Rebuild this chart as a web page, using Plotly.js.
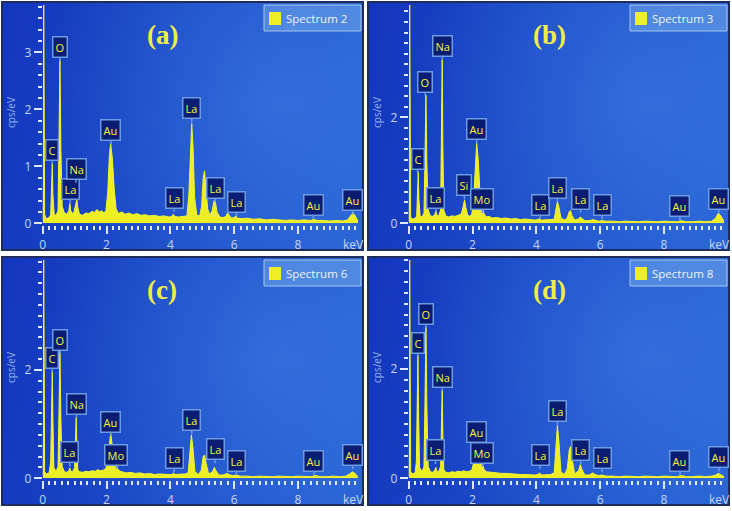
<!DOCTYPE html>
<html>
<head>
<meta charset="utf-8">
<script src="https://cdn.plot.ly/plotly-3.0.1.min.js"></script>
<style>
  html, body { margin: 0; padding: 0; background: #fff; }
  #plot { width: 732px; height: 511px; }
</style>
</head>
<body>
<div id="plot"></div>
<script>
// EDS spectra, energy in keV and counts in cps/eV
const energy_a = [0.00, 0.02, 0.03, 0.04, 0.06, 0.12, 0.20, 0.25, 0.28, 0.30, 0.32, 0.36, 0.42, 0.48, 0.51, 0.54, 0.57, 0.61, 0.68, 0.76,
  0.82, 0.85, 0.88, 0.93, 0.98, 1.03, 1.07, 1.10, 1.15, 1.25, 1.35, 1.45, 1.55, 1.62, 1.70, 1.78, 1.85, 1.92, 1.98, 2.04,
  2.09, 2.13, 2.18, 2.24, 2.30, 2.38, 2.48, 2.58, 2.70, 2.82, 2.95, 3.08, 3.20, 3.35, 3.50, 3.65, 3.80, 3.95, 4.04, 4.09,
  4.14, 4.25, 4.40, 4.52, 4.58, 4.63, 4.67, 4.71, 4.76, 4.83, 4.92, 4.98, 5.03, 5.07, 5.11, 5.17, 5.24, 5.31, 5.37, 5.41,
  5.46, 5.55, 5.65, 5.74, 5.79, 5.84, 5.92, 6.00, 6.05, 6.10, 6.25, 6.40, 6.60, 6.80, 7.00, 7.20, 7.40, 7.60, 7.80, 8.00,
  8.20, 8.40, 8.50, 8.60, 8.80, 9.00, 9.20, 9.40, 9.55, 9.65, 9.72, 9.78, 9.85, 9.88];
const counts_a = [0.05, 1.00, 4.50, 1.20, 0.15, 0.08, 0.10, 0.15, 0.55, 1.05, 0.50, 0.15, 0.14, 0.22, 1.40, 2.87, 1.30, 0.30, 0.18, 0.16,
  0.22, 0.35, 0.22, 0.17, 0.20, 0.30, 0.42, 0.28, 0.16, 0.14, 0.18, 0.17, 0.21, 0.19, 0.24, 0.20, 0.22, 0.18, 0.22, 0.55,
  1.20, 1.40, 1.15, 0.60, 0.25, 0.17, 0.20, 0.16, 0.18, 0.15, 0.17, 0.14, 0.15, 0.13, 0.14, 0.12, 0.13, 0.11, 0.12, 0.16,
  0.12, 0.11, 0.12, 0.13, 0.50, 1.40, 1.75, 1.35, 0.45, 0.14, 0.13, 0.30, 0.80, 0.92, 0.70, 0.25, 0.14, 0.22, 0.40, 0.38,
  0.20, 0.11, 0.10, 0.12, 0.18, 0.14, 0.09, 0.10, 0.13, 0.09, 0.08, 0.09, 0.07, 0.08, 0.06, 0.07, 0.06, 0.05, 0.06, 0.05,
  0.06, 0.05, 0.07, 0.05, 0.05, 0.04, 0.05, 0.04, 0.06, 0.13, 0.18, 0.14, 0.06, 0.04];

const energy_b = [0.00, 0.02, 0.03, 0.04, 0.06, 0.12, 0.20, 0.25, 0.28, 0.30, 0.32, 0.36, 0.42, 0.48, 0.51, 0.54, 0.57, 0.61, 0.68, 0.76,
  0.82, 0.85, 0.88, 0.94, 1.00, 1.03, 1.05, 1.07, 1.10, 1.16, 1.25, 1.35, 1.45, 1.55, 1.65, 1.70, 1.75, 1.79, 1.85, 1.92,
  1.98, 2.04, 2.09, 2.13, 2.18, 2.23, 2.29, 2.35, 2.42, 2.52, 2.62, 2.75, 2.90, 3.05, 3.20, 3.35, 3.50, 3.65, 3.80, 3.95,
  4.05, 4.10, 4.15, 4.30, 4.45, 4.56, 4.61, 4.66, 4.71, 4.77, 4.88, 4.97, 5.03, 5.07, 5.12, 5.20, 5.32, 5.38, 5.43, 5.52,
  5.65, 5.78, 5.83, 5.95, 6.06, 6.20, 6.40, 6.60, 6.80, 7.00, 7.20, 7.40, 7.60, 7.80, 8.00, 8.20, 8.40, 8.55, 8.70, 8.90,
  9.10, 9.30, 9.50, 9.62, 9.70, 9.77, 9.85, 9.88];
const counts_b = [0.05, 1.00, 4.60, 1.20, 0.12, 0.08, 0.09, 0.14, 0.50, 0.97, 0.45, 0.13, 0.12, 0.20, 1.20, 2.42, 1.10, 0.25, 0.14, 0.13,
  0.17, 0.24, 0.16, 0.14, 0.25, 1.60, 3.09, 1.50, 0.25, 0.14, 0.12, 0.14, 0.13, 0.15, 0.18, 0.30, 0.44, 0.30, 0.15, 0.13,
  0.18, 0.50, 1.25, 1.51, 1.20, 0.60, 0.38, 0.20, 0.12, 0.13, 0.10, 0.11, 0.09, 0.10, 0.08, 0.09, 0.07, 0.08, 0.07, 0.06,
  0.07, 0.09, 0.06, 0.06, 0.07, 0.08, 0.25, 0.41, 0.30, 0.10, 0.06, 0.10, 0.22, 0.24, 0.14, 0.06, 0.08, 0.12, 0.09, 0.05,
  0.05, 0.07, 0.06, 0.04, 0.05, 0.04, 0.04, 0.03, 0.04, 0.03, 0.03, 0.04, 0.03, 0.03, 0.04, 0.03, 0.03, 0.05, 0.03, 0.03,
  0.04, 0.03, 0.04, 0.10, 0.19, 0.15, 0.05, 0.04];

const energy_c = [0.00, 0.02, 0.03, 0.04, 0.06, 0.12, 0.20, 0.25, 0.28, 0.30, 0.32, 0.35, 0.42, 0.48, 0.51, 0.54, 0.57, 0.61, 0.68, 0.76,
  0.82, 0.85, 0.88, 0.94, 1.00, 1.03, 1.05, 1.07, 1.10, 1.16, 1.25, 1.35, 1.45, 1.55, 1.65, 1.72, 1.80, 1.90, 1.98, 2.04,
  2.09, 2.13, 2.17, 2.22, 2.28, 2.34, 2.42, 2.52, 2.62, 2.75, 2.90, 3.05, 3.20, 3.35, 3.50, 3.65, 3.80, 3.95, 4.05, 4.10,
  4.15, 4.30, 4.45, 4.56, 4.61, 4.66, 4.71, 4.77, 4.88, 4.97, 5.03, 5.07, 5.12, 5.20, 5.32, 5.38, 5.43, 5.52, 5.65, 5.78,
  5.83, 5.95, 6.06, 6.20, 6.40, 6.60, 6.80, 7.00, 7.20, 7.40, 7.60, 7.80, 8.00, 8.20, 8.40, 8.55, 8.70, 8.90, 9.10, 9.30,
  9.50, 9.62, 9.70, 9.77, 9.85, 9.88];
const counts_c = [0.05, 1.00, 4.60, 1.20, 0.12, 0.08, 0.10, 0.30, 1.20, 1.97, 1.10, 0.20, 0.12, 0.22, 1.20, 2.34, 1.10, 0.22, 0.12, 0.11,
  0.14, 0.19, 0.13, 0.12, 0.20, 0.60, 1.13, 0.55, 0.15, 0.12, 0.11, 0.13, 0.12, 0.14, 0.13, 0.16, 0.14, 0.15, 0.18, 0.35,
  0.65, 0.83, 0.65, 0.42, 0.33, 0.18, 0.13, 0.12, 0.10, 0.11, 0.09, 0.10, 0.08, 0.09, 0.07, 0.08, 0.07, 0.07, 0.07, 0.10,
  0.07, 0.07, 0.08, 0.10, 0.45, 0.80, 0.55, 0.12, 0.07, 0.15, 0.40, 0.43, 0.28, 0.08, 0.12, 0.20, 0.14, 0.06, 0.06, 0.09,
  0.07, 0.05, 0.06, 0.04, 0.04, 0.03, 0.04, 0.03, 0.03, 0.04, 0.03, 0.03, 0.04, 0.03, 0.03, 0.05, 0.03, 0.03, 0.04, 0.03,
  0.04, 0.08, 0.12, 0.10, 0.04, 0.03];

const energy_d = [0.00, 0.02, 0.03, 0.04, 0.06, 0.12, 0.20, 0.24, 0.27, 0.29, 0.31, 0.34, 0.42, 0.48, 0.51, 0.54, 0.57, 0.61, 0.68, 0.76,
  0.82, 0.85, 0.88, 0.94, 1.00, 1.03, 1.05, 1.07, 1.10, 1.16, 1.25, 1.35, 1.45, 1.55, 1.65, 1.72, 1.80, 1.90, 1.98, 2.04,
  2.09, 2.14, 2.18, 2.24, 2.30, 2.36, 2.44, 2.55, 2.65, 2.78, 2.90, 3.05, 3.20, 3.35, 3.50, 3.65, 3.80, 3.95, 4.05, 4.10,
  4.15, 4.30, 4.45, 4.56, 4.61, 4.66, 4.71, 4.77, 4.88, 4.97, 5.03, 5.07, 5.12, 5.20, 5.32, 5.38, 5.43, 5.52, 5.65, 5.78,
  5.83, 5.95, 6.06, 6.20, 6.40, 6.60, 6.80, 7.00, 7.20, 7.40, 7.60, 7.80, 8.00, 8.20, 8.40, 8.55, 8.70, 8.90, 9.10, 9.30,
  9.50, 9.62, 9.70, 9.77, 9.85, 9.88];
const counts_d = [0.05, 1.00, 4.60, 1.20, 0.12, 0.08, 0.10, 0.30, 1.30, 2.26, 1.20, 0.20, 0.12, 0.22, 1.40, 2.78, 1.30, 0.22, 0.12, 0.11,
  0.15, 0.20, 0.13, 0.12, 0.22, 0.85, 1.62, 0.80, 0.16, 0.11, 0.10, 0.12, 0.11, 0.13, 0.12, 0.14, 0.12, 0.13, 0.15, 0.30,
  0.48, 0.58, 0.50, 0.42, 0.30, 0.16, 0.12, 0.11, 0.10, 0.10, 0.09, 0.09, 0.08, 0.08, 0.07, 0.07, 0.06, 0.06, 0.07, 0.10,
  0.06, 0.06, 0.07, 0.10, 0.50, 0.97, 0.65, 0.12, 0.07, 0.18, 0.52, 0.58, 0.36, 0.08, 0.14, 0.25, 0.16, 0.06, 0.06, 0.10,
  0.07, 0.05, 0.06, 0.04, 0.04, 0.03, 0.04, 0.03, 0.03, 0.04, 0.03, 0.03, 0.04, 0.03, 0.03, 0.05, 0.03, 0.03, 0.04, 0.03,
  0.04, 0.06, 0.09, 0.07, 0.03, 0.03];

// element markers: text, energy of the pointer, height of the pointer tip
const labels_a = ["C", "O", "La", "Na", "Au", "La", "La", "La", "La", "Au", "Au"];
const label_x_a = [0.30, 0.54, 0.86, 1.045, 2.14, 4.12, 4.67, 5.40, 6.07, 8.48, 9.72];
const label_y_a = [1.04, 2.84, 0.36, 0.71, 1.39, 0.20, 1.77, 0.37, 0.13, 0.07, 0.16];

const labels_b = ["C", "O", "Na", "La", "Si", "Au", "Mo", "La", "La", "La", "La", "Au", "Au"];
const label_x_b = [0.28, 0.52, 1.055, 0.85, 1.745, 2.13, 2.31, 4.12, 4.66, 5.39, 6.06, 8.50, 9.72];
const label_y_b = [0.94, 2.40, 3.09, 0.22, 0.45, 1.52, 0.19, 0.09, 0.41, 0.20, 0.075, 0.06, 0.20];

const labels_c = ["C", "O", "La", "Na", "Au", "Mo", "La", "La", "La", "La", "Au", "Au"];
const label_x_c = [0.30, 0.54, 0.85, 1.055, 2.13, 2.31, 4.12, 4.67, 5.40, 6.07, 8.50, 9.72];
const label_y_c = [1.96, 2.30, 0.22, 1.11, 0.79, 0.18, 0.11, 0.81, 0.28, 0.07, 0.06, 0.17];

const labels_d = ["C", "O", "Na", "La", "Au", "Mo", "La", "La", "La", "La", "Au", "Au"];
const label_x_d = [0.28, 0.54, 1.055, 0.84, 2.13, 2.31, 4.12, 4.66, 5.39, 6.06, 8.50, 9.72];
const label_y_d = [2.23, 2.76, 1.60, 0.26, 0.60, 0.21, 0.17, 0.98, 0.26, 0.11, 0.06, 0.13];

const panel_letters = ["(a)", "(b)", "(c)", "(d)"];
const spectrum_names = ["Spectrum 2", "Spectrum 3", "Spectrum 6", "Spectrum 8"];
const y_max = [3.83, 4.12, 4.03, 4.0];
const y_ticks = [[0, 1, 2, 3], [0, 2], [0, 2], [0, 2]];
const x_ticks = [0, 2, 4, 6, 8];

const W = 732, H = 511;
const yellow = "#eeee26";
const tick_color = "#dfe8f8";
const text_color = "#c6d6f2";

const panels = [
  { e: energy_a, c: counts_a, t: labels_a, lx: label_x_a, ly: label_y_a, ox: 0, oy: 0, title_x: 162 },
  { e: energy_b, c: counts_b, t: labels_b, lx: label_x_b, ly: label_y_b, ox: 366, oy: 0, title_x: 183 },
  { e: energy_c, c: counts_c, t: labels_c, lx: label_x_c, ly: label_y_c, ox: 0, oy: 255, title_x: 162 },
  { e: energy_d, c: counts_d, t: labels_d, lx: label_x_d, ly: label_y_d, ox: 366, oy: 255, title_x: 183 }
];

const make_background = () => {
  const cv = document.createElement("canvas");
  cv.width = 360; cv.height = 248;
  const ctx = cv.getContext("2d");
  const g = ctx.createLinearGradient(0, 0, 360, 60);
  g.addColorStop(0, "#1336bd");
  g.addColorStop(1, "#265fd3");
  ctx.fillStyle = g;
  ctx.fillRect(0, 0, 360, 248);
  const r = ctx.createRadialGradient(270, 100, 5, 270, 100, 230);
  r.addColorStop(0, "rgba(80,150,240,0.35)");
  r.addColorStop(1, "rgba(80,150,240,0)");
  ctx.fillStyle = r;
  ctx.fillRect(0, 0, 360, 248);
  return cv.toDataURL("image/png");
};

const px = (v) => v / W;
const py = (v) => 1 - v / H;

const bg = make_background();
let data = [];
let layout = {
  width: W, height: H,
  margin: { l: 0, r: 0, t: 0, b: 0 },
  paper_bgcolor: "#ffffff",
  plot_bgcolor: "rgba(0,0,0,0)",
  showlegend: false,
  font: { family: "Open Sans, DejaVu Sans, sans-serif" },
  annotations: [], shapes: [], images: []
};

panels.forEach((p, i) => {
  const n = i === 0 ? "" : String(i + 1);
  const xa = "x" + n, ya = "y" + n;
  const y0 = py(p.oy + 223.3);
  const y1 = py(p.oy + 5);

  data.push({
    x: p.e, y: p.c, type: "scatter", mode: "lines",
    line: { color: "#f4f42e", width: 1 },
    fill: "tozeroy", fillcolor: yellow,
    name: spectrum_names[i],
    xaxis: xa, yaxis: ya, hoverinfo: "skip"
  });

  layout["xaxis" + n] = {
    domain: [px(p.ox + 42.7), px(p.ox + 358)],
    range: [0, 9.88], anchor: "free", position: y0 - 2 / H,
    tickmode: "array", tickvals: x_ticks,
    ticks: "outside", ticklen: 8, tickwidth: 2, tickcolor: tick_color,
    minor: { tick0: 0, dtick: 0.2, ticks: "outside", ticklen: 4, tickwidth: 2, tickcolor: tick_color },
    showgrid: false, zeroline: false, showline: false,
    tickfont: { size: 12, color: text_color }
  };
  layout["yaxis" + n] = {
    domain: [y0, y1], range: [0, y_max[i]], anchor: xa,
    tickmode: "array", tickvals: y_ticks[i],
    ticks: "outside", ticklen: 8, tickwidth: 2, tickcolor: tick_color,
    minor: { tick0: 0, dtick: 0.2, ticks: "outside", ticklen: 4, tickwidth: 2, tickcolor: tick_color },
    showgrid: false, zeroline: false, showline: false,
    tickfont: { size: 12, color: text_color }
  };

  layout.images.push({
    source: bg, xref: "paper", yref: "paper",
    x: px(p.ox + 2), y: py(p.oy + 2), sizex: 361 / W, sizey: 248 / H,
    xanchor: "left", yanchor: "top", sizing: "stretch", layer: "below"
  });
  layout.shapes.push({
    type: "rect", xref: "paper", yref: "paper",
    x0: px(p.ox + 2), x1: px(p.ox + 363), y0: py(p.oy + 250), y1: py(p.oy + 2),
    line: { color: "#1f2d5c", width: 2 }
  });

  // legend box in the upper right corner
  layout.shapes.push({
    type: "rect", xref: "paper", yref: "paper", layer: "above",
    x0: px(p.ox + 264), x1: px(p.ox + 361), y0: py(p.oy + 31), y1: py(p.oy + 5),
    fillcolor: "rgba(105,160,232,0.6)", line: { color: "rgba(175,205,240,0.9)", width: 1 }
  });
  layout.shapes.push({
    type: "rect", xref: "paper", yref: "paper", layer: "above",
    x0: px(p.ox + 269), x1: px(p.ox + 281), y0: py(p.oy + 25), y1: py(p.oy + 12),
    fillcolor: yellow, line: { width: 0 }
  });
  layout.annotations.push({
    x: px(p.ox + 284), y: py(p.oy + 18.5), xref: "paper", yref: "paper",
    xanchor: "left", yanchor: "middle", text: spectrum_names[i], showarrow: false,
    font: { size: 11.5, color: "#eef3ff" }
  });

  p.t.forEach((t, k) => {
    layout.annotations.push({
      x: p.lx[k], y: p.ly[k], xref: xa, yref: ya, text: t,
      showarrow: true, arrowhead: 0, arrowwidth: 1.5, arrowcolor: "#6d9be2",
      ax: 0, ay: -14, standoff: 0,
      bgcolor: "#0b1d72", bordercolor: "#6d9be2", borderwidth: 1.5, borderpad: 2,
      font: { size: 11, color: "#f6f63a" }
    });
  });

  layout.annotations.push({
    x: px(p.ox + p.title_x), y: py(p.oy + 35), xref: "paper", yref: "paper",
    xanchor: "center", yanchor: "middle",
    text: "<b>" + panel_letters[i] + "</b>", showarrow: false,
    font: { family: "Liberation Serif, serif", size: 27, color: "#eeee48" }
  });
  layout.annotations.push({
    x: px(p.ox + 11), y: py(p.oy + 113), xref: "paper", yref: "paper",
    xanchor: "center", yanchor: "middle",
    text: "cps/eV", textangle: -90, showarrow: false,
    font: { size: 10, color: "#93b3e8" }
  });
  layout.annotations.push({
    x: px(p.ox + 353), y: py(p.oy + 244), xref: "paper", yref: "paper",
    xanchor: "center", yanchor: "middle",
    text: "keV", showarrow: false,
    font: { size: 12, color: text_color }
  });
});

let config = { staticPlot: true };

window.addEventListener("load", () => {
  Plotly.newPlot("plot", data, layout, config);
});
</script>
</body>
</html>
